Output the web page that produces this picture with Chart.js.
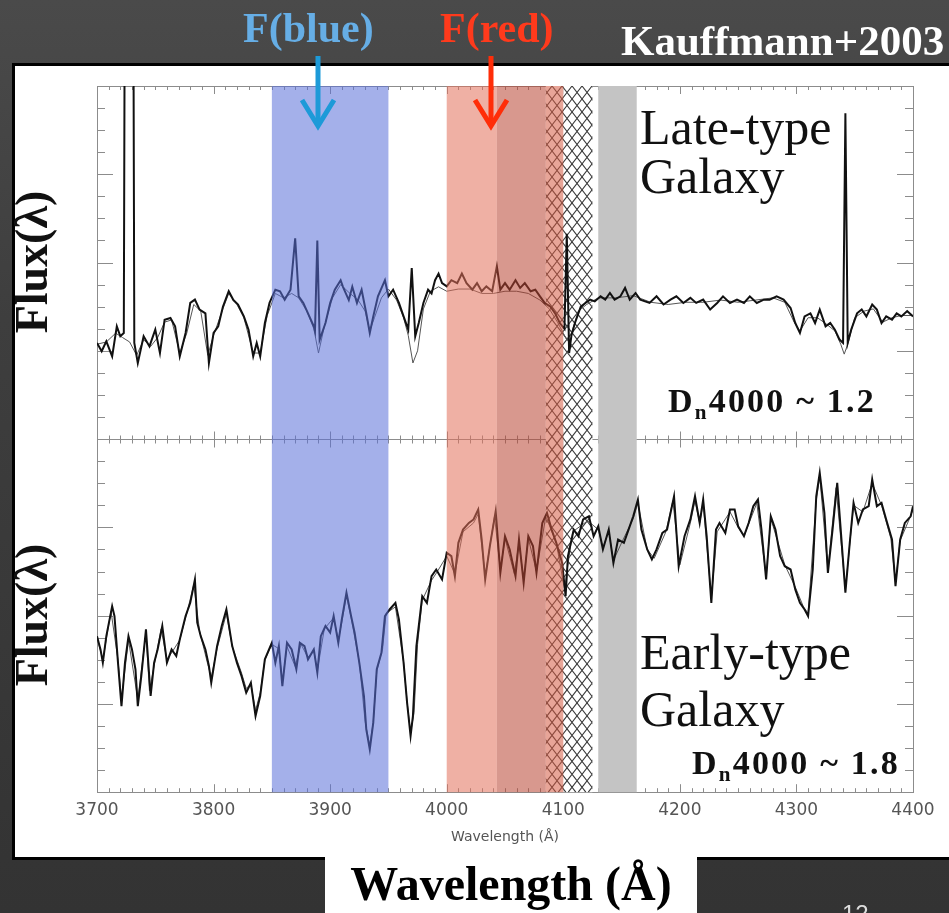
<!DOCTYPE html>
<html><head><meta charset="utf-8">
<script src="https://cdn.jsdelivr.net/npm/chart.js@4.4.1/dist/chart.umd.min.js"></script>
<style>
html,body{margin:0;padding:0;}
body{width:949px;height:913px;overflow:hidden;position:relative;
 background:linear-gradient(180deg,#4a4a4a 0%,#3e3e3e 35%,#333 100%);
 font-family:"Liberation Serif","Times New Roman",serif;}
#panel{position:absolute;left:12px;top:63px;width:1000px;height:791px;background:#fff;border:3px solid #000;}
#wrap{position:absolute;left:0;top:0;width:949px;height:913px;}
.t{position:absolute;white-space:nowrap;line-height:1;}
.b{font-weight:bold;}
.dn{letter-spacing:2.2px;}
#wbox{position:absolute;left:325px;top:845px;width:372px;height:80px;background:#fff;}
sub{font-size:0.62em;vertical-align:-0.32em;line-height:0;}
</style></head>
<body>
<div id="panel"></div>
<div id="wrap"><canvas id="c"></canvas></div>
<div id="wbox"></div>
<svg width="949" height="913" style="position:absolute;left:0;top:0">
 <g fill="none" stroke-width="5" stroke-linejoin="miter">
  <line x1="318" y1="56" x2="318" y2="124" stroke="#1d9ad8"/>
  <polyline points="302,100 318,126 334,100" stroke="#1d9ad8"/>
  <line x1="491" y1="56" x2="491" y2="124" stroke="#ff2d08"/>
  <polyline points="475,100 491,126 507,100" stroke="#ff2d08"/>
 </g>
</svg>
<div class="t b" style="left:243px;top:7px;font-size:42px;color:#66aee6">F(blue)</div>
<div class="t b" style="left:440px;top:7px;font-size:42px;color:#ff3a1c">F(red)</div>
<div class="t b" style="left:621px;top:19px;font-size:43px;color:#fff">Kauffmann+2003</div>
<div class="t" style="left:640px;top:102px;font-size:50px;color:#111">Late-type</div>
<div class="t" style="left:640px;top:151px;font-size:50px;color:#111">Galaxy</div>
<div class="t b dn" style="left:668px;top:384px;font-size:34px;color:#111">D<sub>n</sub>4000 ~ 1.2</div>
<div class="t" style="left:640px;top:627px;font-size:50px;color:#111">Early-type</div>
<div class="t" style="left:640px;top:684px;font-size:50px;color:#111">Galaxy</div>
<div class="t b dn" style="left:692px;top:746px;font-size:34px;color:#111">D<sub>n</sub>4000 ~ 1.8</div>
<div class="t b" style="left:32px;top:262px;font-size:46px;color:#111;transform:translate(-50%,-50%) rotate(-90deg)">Flux(λ)</div>
<div class="t b" style="left:32px;top:615px;font-size:46px;color:#111;transform:translate(-50%,-50%) rotate(-90deg)">Flux(λ)</div>
<div class="t b" style="left:511px;top:860px;font-size:48px;color:#000;transform:translateX(-50%)">Wavelength (Å)</div>
<div class="t" style="left:842px;top:902px;font-size:24px;color:#ddd;font-family:'Liberation Sans',sans-serif">12</div>
<script>
// ---- data (wavelength in Å, flux in arbitrary offset units) ----
const xTickLabels = ['3700','3800','3900','4000','4100','4200','4300','4400'];
const blueBand = [3850, 3950];
const redBandLight = [4000, 4043];
const redBandDark = [4043, 4085];
const redHatchBand = [4085, 4100];
const hatchBand = [4100, 4125];
const grayBand = [4130, 4163];

const lamLate = [3700,3704,3708,3713,3717,3720,3723,3724,3731,3732,3735,3740,3745,3750,3754,3758,3763,3767,3771,3776,3780,3784,3788,3793,3796,3800,3804,3808,3813,3817,3821,3826,3830,3834,3837,3840,3844,3848,3853,3857,3861,3866,3870,3873,3877,3881,3886,3887,3889,3891,3896,3900,3904,3909,3911,3916,3919,3923,3927,3931,3934,3937,3941,3947,3950,3954,3959,3963,3967,3970,3973,3976,3980,3984,3987,3990,3993,3996,4000,4004,4009,4013,4017,4022,4026,4030,4034,4039,4043,4046,4050,4054,4059,4063,4067,4072,4076,4080,4084,4089,4093,4097,4101,4103,4105,4107,4110,4115,4119,4123,4127,4132,4136,4140,4144,4149,4153,4157,4162,4166,4174,4180,4186,4192,4197,4203,4209,4214,4220,4226,4232,4237,4243,4249,4255,4260,4266,4272,4277,4283,4289,4295,4299,4303,4307,4312,4316,4320,4325,4329,4333,4337,4340,4342,4344,4347,4352,4356,4360,4365,4369,4373,4377,4382,4386,4390,4395,4400];
const fluxLate = [20.36,19.98,20.43,19.75,21.11,20.66,20.81,40,40,20.36,19.45,20.66,20.2,20.96,19.9,21.41,21.49,21.11,19.75,20.81,22.17,22.32,21.87,21.7,19.45,20.81,21.11,22.0,22.7,22.3,22.1,21.56,20.96,19.75,20.36,19.75,21.26,22.17,22.77,22.7,22.32,22.77,25.1,22.47,22.17,21.7,21.11,20.9,25.0,20.5,21.26,22.17,22.77,23.2,22.9,22.3,22.9,22.17,22.77,21.7,20.81,21.56,22.47,23.2,22.47,22.77,22.17,21.56,20.96,23.75,20.66,21.26,22.17,22.77,22.6,23.2,23.5,23.07,22.92,23.2,23.07,23.5,23.07,22.77,23.07,22.7,22.92,22.7,23.83,22.77,23.07,22.77,23.2,22.85,23.07,22.7,22.77,22.47,22.17,22.0,21.7,21.26,21.0,25.3,19.9,20.7,21.26,22.0,22.17,22.32,22.24,22.47,22.32,22.62,22.32,22.47,22.85,22.32,22.62,22.32,22.17,22.47,22.1,22.32,22.47,22.17,22.4,22.17,22.32,21.87,22.17,22.47,22.17,22.32,22.17,22.47,22.17,22.32,22.32,22.47,22.32,21.94,21.26,20.81,21.56,21.7,21.26,21.87,21.11,21.26,20.96,20.51,20.36,30.77,20.36,20.96,21.7,21.87,21.56,22.1,21.87,21.26,21.56,21.41,21.7,21.56,21.8,21.56];

const lamLateModel = [3700,3708,3716,3722,3728,3734,3740,3746,3752,3758,3764,3771,3777,3783,3789,3795,3800,3808,3813,3820,3826,3834,3840,3846,3853,3860,3867,3873,3880,3886,3890,3895,3902,3909,3917,3924,3930,3934,3938,3944,3950,3957,3963,3967,3971,3975,3980,3986,3993,4000,4010,4020,4030,4040,4050,4060,4070,4080,4088,4095,4100,4103,4107,4113,4120,4130,4145,4160,4175,4190,4205,4220,4235,4250,4265,4280,4290,4298,4303,4310,4318,4326,4333,4338,4341,4344,4350,4358,4366,4374,4382,4390,4400];
const fluxLateModel = [20.3,20.4,20.8,20.6,20.4,19.8,20.5,20.2,20.6,21.3,21.4,19.9,20.8,22.1,21.8,19.8,20.7,21.9,22.6,22.1,21.5,19.9,19.9,21.6,22.6,22.4,22.6,22.4,21.8,21.0,19.9,21.1,22.4,23.0,22.6,22.3,21.8,20.9,21.5,22.4,22.8,22.3,21.5,20.7,19.45,20.0,21.9,22.7,22.9,22.7,22.8,22.8,22.6,22.6,22.7,22.7,22.6,22.3,21.9,21.3,20.8,20.5,20.8,21.8,22.1,22.4,22.4,22.5,22.2,22.1,22.2,22.2,22.3,22.2,22.3,22.4,22.2,21.3,20.9,21.5,21.5,21.2,20.9,20.3,19.85,20.3,21.5,21.8,21.9,21.3,21.5,21.6,21.6];

const lamEarly = [3700,3703,3705,3708,3713,3715,3718,3721,3724,3727,3730,3733,3735,3738,3742,3746,3749,3752,3756,3760,3764,3768,3771,3776,3780,3784,3786,3789,3793,3796,3798,3803,3807,3811,3816,3820,3824,3828,3832,3836,3840,3844,3850,3853,3856,3859,3863,3867,3871,3874,3878,3881,3886,3889,3892,3896,3900,3903,3907,3910,3914,3918,3921,3925,3929,3931,3934,3937,3940,3944,3947,3951,3956,3959,3963,3966,3969,3971,3974,3979,3983,3987,3991,3996,4000,4004,4007,4010,4014,4019,4023,4027,4030,4033,4037,4042,4046,4050,4054,4059,4062,4066,4070,4074,4077,4082,4086,4090,4094,4099,4102,4104,4109,4113,4117,4122,4126,4130,4134,4139,4143,4147,4152,4156,4160,4164,4167,4172,4176,4180,4185,4189,4195,4199,4204,4209,4213,4217,4220,4223,4227,4231,4234,4239,4243,4247,4250,4255,4259,4263,4267,4270,4274,4278,4282,4286,4290,4295,4299,4303,4307,4310,4314,4317,4320,4324,4327,4331,4335,4338,4342,4346,4349,4353,4357,4362,4365,4369,4373,4377,4382,4385,4389,4393,4398,4400];
const fluxEarly = [7.07,6.47,5.87,7.07,8.43,7.98,5.87,3.9,5.87,7.07,6.47,5.57,3.9,5.26,7.38,4.36,5.87,6.47,7.53,5.87,6.47,6.17,6.92,7.98,8.58,9.64,7.68,7.07,6.47,5.72,4.96,6.62,7.53,8.28,6.62,5.87,5.26,4.51,4.96,3.45,4.36,6.02,6.77,5.87,6.62,4.81,6.77,6.47,5.57,6.77,6.62,6.02,6.47,5.42,7.07,7.53,7.23,7.98,6.77,7.83,9.04,7.98,7.23,5.87,4.36,2.85,1.94,3.15,5.57,6.32,7.98,8.28,8.58,7.83,5.87,4.06,2.55,3.45,6.62,8.88,8.58,9.79,10.09,9.64,10.85,10.7,9.79,11.3,11.9,12.2,12.36,12.81,11.45,9.64,11.15,12.73,9.94,11.6,11.0,9.79,11.45,9.49,11.6,11.15,9.94,12.2,12.66,11.9,11.3,10.39,8.88,10.7,11.9,11.6,12.36,12.5,11.6,12.05,11.0,11.9,10.39,11.45,11.3,11.9,12.5,13.26,11.9,11.0,10.55,11.0,11.75,11.9,13.41,10.24,11.6,12.36,13.41,12.2,13.26,11.6,8.58,11.9,12.2,11.75,12.81,12.81,12.05,11.6,12.2,12.96,13.26,11.9,9.64,12.5,11.9,10.7,10.24,10.09,9.19,8.58,8.28,7.98,10.09,13.41,14.47,12.66,9.94,11.9,14.02,11.9,9.04,11.45,13.11,12.2,12.81,12.96,14.17,12.96,13.11,12.36,11.45,9.34,11.45,12.2,12.5,12.96];

const lamEarlyModel = [3700,3705,3712,3718,3721,3727,3735,3742,3745,3750,3755,3760,3765,3771,3777,3783,3788,3795,3798,3803,3811,3816,3824,3828,3832,3836,3840,3844,3850,3856,3859,3863,3870,3875,3881,3886,3889,3895,3903,3907,3910,3914,3918,3925,3930,3934,3937,3940,3945,3948,3956,3963,3966,3969,3972,3975,3979,3987,3992,4000,4007,4014,4023,4027,4033,4041,4046,4050,4058,4062,4066,4070,4077,4085,4094,4101,4108,4121,4130,4134,4139,4143,4150,4160,4164,4172,4178,4188,4194,4200,4209,4213,4217,4220,4227,4232,4243,4250,4255,4266,4274,4278,4290,4299,4306,4310,4317,4320,4327,4334,4342,4349,4357,4365,4373,4381,4385,4389,4397,4400];
const fluxEarlyModel = [7.0,6.0,8.2,6.0,4.2,6.9,4.2,7.2,4.6,6.0,7.4,6.0,6.4,6.9,8.1,9.4,7.3,5.8,5.2,6.5,8.1,6.6,5.4,4.7,4.9,3.7,4.5,6.0,6.7,6.5,5.0,6.6,5.7,6.7,6.1,6.4,5.5,7.4,7.9,6.9,7.7,8.9,7.9,5.9,3.2,2.1,3.2,5.5,6.5,8.1,8.4,5.9,4.1,2.7,3.6,6.7,8.7,9.6,10.0,10.7,9.9,11.8,12.2,12.6,9.8,12.5,10.1,11.5,9.9,11.3,9.6,11.5,10.0,12.5,11.3,9.2,11.8,12.3,11.9,11.1,11.8,10.5,11.3,12.4,13.1,11.0,10.6,11.8,13.2,10.3,12.2,13.2,12.2,13.1,8.8,11.8,12.7,12.0,11.6,13.1,9.8,12.4,10.3,9.3,8.4,8.1,13.2,14.3,10.1,13.8,9.2,13.0,12.7,14.0,13.0,11.5,9.5,11.4,12.4,12.8];

const pts = (lam, f) => lam.map((l, i) => ({x: l, y: f[i]}));

function band(ctx, x, a, r, color) {
  const x0 = x.getPixelForValue(r[0]), x1 = x.getPixelForValue(r[1]);
  ctx.fillStyle = color;
  ctx.fillRect(x0, a.top, x1 - x0, a.bottom - a.top);
}
function hatch(ctx, x, a, r) {
  const x0 = x.getPixelForValue(r[0]), x1 = x.getPixelForValue(r[1]);
  ctx.save();
  ctx.beginPath(); ctx.rect(x0, a.top, x1 - x0, a.bottom - a.top); ctx.clip();
  ctx.strokeStyle = '#3a3a3a'; ctx.lineWidth = 1.1;
  const H = a.bottom - a.top, rr = 0.77, s = 10;
  ctx.beginPath();
  for (let k = -H * rr - s; k < (x1 - x0) + H * rr + s; k += s) {
    ctx.moveTo(x0 + k, a.top); ctx.lineTo(x0 + k + H * rr, a.bottom);
    ctx.moveTo(x0 + k, a.top); ctx.lineTo(x0 + k - H * rr, a.bottom);
  }
  ctx.stroke();
  ctx.restore();
}

const framePlugin = {
  id: 'frame',
  beforeDatasetsDraw(chart) {
    const {ctx, chartArea: a, scales: {x, y}} = chart;
    ctx.save();
    ctx.strokeStyle = '#8c8c8c'; ctx.lineWidth = 1;
    ctx.strokeRect(Math.round(a.left) + 0.5, Math.round(a.top) + 0.5, Math.round(a.right - a.left), Math.round(a.bottom - a.top));
    const ym = Math.round(y.getPixelForValue(16)) + 0.5;
    ctx.beginPath(); ctx.moveTo(a.left, ym); ctx.lineTo(a.right, ym);
    for (let v = 0; v <= 32; v++) {
      const py = Math.round(y.getPixelForValue(v)) + 0.5;
      const len = (v % 4 === 0) ? 16 : 8;
      ctx.moveTo(a.left, py); ctx.lineTo(a.left + len, py);
      ctx.moveTo(a.right, py); ctx.lineTo(a.right - len, py);
    }
    for (let l = 3700; l <= 4400; l += 10) {
      const px = Math.round(x.getPixelForValue(l)) + 0.5;
      const len = (l % 100 === 0) ? 8 : 4;
      ctx.moveTo(px, a.top); ctx.lineTo(px, a.top + len);
      ctx.moveTo(px, a.bottom); ctx.lineTo(px, a.bottom - len);
      ctx.moveTo(px, ym - len); ctx.lineTo(px, ym + len);
    }
    ctx.stroke();
    band(ctx, x, a, grayBand, '#c4c4c4');
    band(ctx, x, a, hatchBand, '#ffffff');
    band(ctx, x, a, redHatchBand, '#ffffff');
    hatch(ctx, x, a, [redHatchBand[0], hatchBand[1]]);
    ctx.restore();
  },
  afterDatasetsDraw(chart) {
    const {ctx, chartArea: a, scales: {x}} = chart;
    ctx.save();
    band(ctx, x, a, blueBand, 'rgba(90,111,217,0.55)');
    band(ctx, x, a, redBandLight, 'rgba(226,111,90,0.55)');
    band(ctx, x, a, redBandDark, 'rgba(184,68,50,0.55)');
    band(ctx, x, a, redHatchBand, 'rgba(213,91,68,0.55)');
    ctx.restore();
  }
};

new Chart(document.getElementById('c'), {
  type: 'line',
  data: {
    datasets: [
      {label: 'Late-type observed', data: pts(lamLate, fluxLate), borderColor: '#111', borderWidth: 2},
      {label: 'Early-type observed', data: pts(lamEarly, fluxEarly), borderColor: '#111', borderWidth: 2},
      {label: 'Late-type model', data: pts(lamLateModel, fluxLateModel), borderColor: '#555', borderWidth: 1},
      {label: 'Early-type model', data: pts(lamEarlyModel, fluxEarlyModel), borderColor: '#555', borderWidth: 1}
    ]
  },
  options: {
    animation: false,
    responsive: true,
    maintainAspectRatio: false,
    layout: {padding: {left: 97, top: 86, right: 36, bottom: 57}},
    elements: {point: {radius: 0}, line: {tension: 0, fill: false}},
    plugins: {legend: {display: false}, tooltip: {enabled: false}},
    scales: {
      x: {
        type: 'linear', min: 3700, max: 4400,
        grid: {display: false, drawTicks: false},
        border: {display: false},
        ticks: {stepSize: 100, padding: 10, color: '#555',
          font: {family: 'DejaVu Sans', size: 17, lineHeight: 1.0},
          callback: (v, i) => xTickLabels[i]},
        title: {display: true, text: 'Wavelength (Å)', color: '#555',
          font: {family: 'DejaVu Sans', size: 14}, padding: {top: 0, bottom: 10}}
      },
      y: {min: 0, max: 32, display: false}
    }
  },
  plugins: [framePlugin]
});
</script>
</body></html>
